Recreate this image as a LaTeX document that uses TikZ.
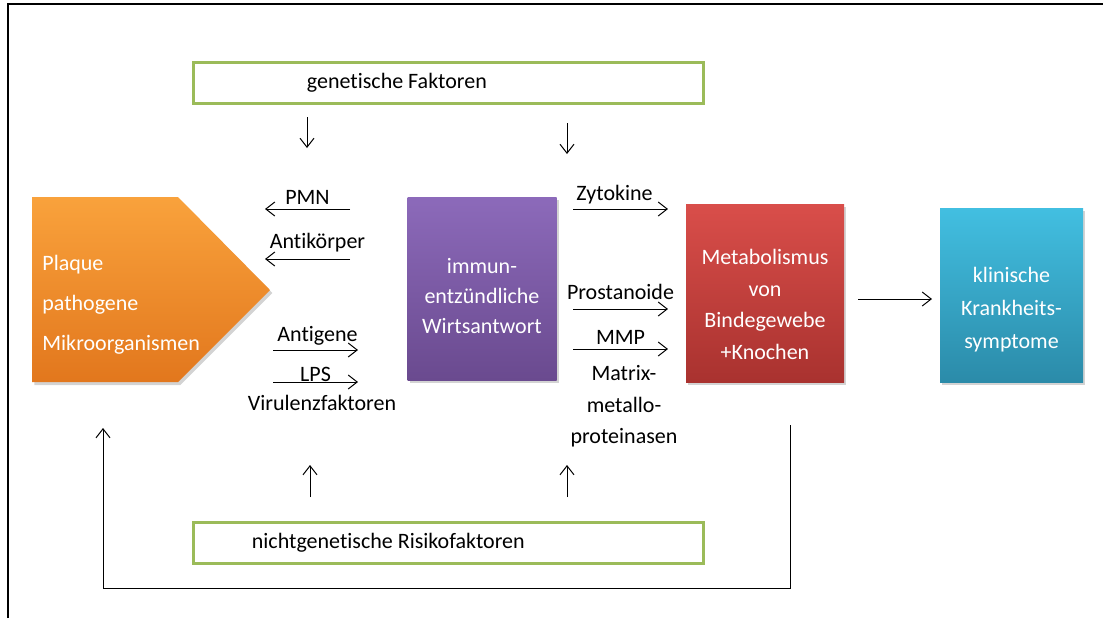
\documentclass[tikz,border=0pt]{standalone}
\usepackage{fontspec}
\setmainfont[Ligatures={TeX,NoCommon}]{Carlito}
\usetikzlibrary{arrows.meta,shadows}
\definecolor{gfgreen}{HTML}{9BBB59}
\definecolor{plaquetop}{HTML}{F9A23C}
\definecolor{plaquebot}{HTML}{E2771D}
\definecolor{hosttop}{HTML}{8C6ABA}
\definecolor{hostbot}{HTML}{6A4A8F}
\definecolor{metatop}{HTML}{D94E4A}
\definecolor{metabot}{HTML}{A9322F}
\definecolor{kliniktop}{HTML}{42BFE1}
\definecolor{klinikbot}{HTML}{2B8BA9}
\tikzset{
  arr/.style={-{Straight Barb[length=4.5pt,width=7pt]},line width=0.5pt},
  factorbox/.style={draw=gfgreen,line width=1.5pt,minimum width=255pt,minimum height=20.5pt,inner sep=0pt},
  colbox/.style={inner sep=0pt,drop shadow={opacity=0.35,shadow xshift=1.2pt,shadow yshift=-1.5pt}},
  boxtext/.style={text=white,align=center,inner sep=0pt},
  lbl/.style={inner sep=2pt}
}

\begin{document}
\begin{tikzpicture}[x=0.5pt,y=-0.5pt,font=\fontsize{11}{13}\selectfont]
\useasboundingbox (0,0) rectangle (1103,618);
\draw[line width=0.75pt] (8,618) -- (8,4) -- (1103,4);

\node[factorbox] (gen) at (448,82.5) {};
\node[anchor=west,inner sep=0pt] (gentext) at ([xshift=57.5pt]gen.west) {genetische Faktoren};
\node[factorbox] (nongen) at (448,542.5) {};
\node[anchor=west,inner sep=0pt] (nongentext) at ([xshift=30pt]nongen.west) {nichtgenetische Risikofaktoren};

\path[colbox,top color=plaquetop,bottom color=plaquebot]
  (32,197) -- (178,197) -- (270,290) -- (178,382) -- (32,382) -- cycle;
\node[boxtext,anchor=west,align=left,font=\fontsize{11}{20}\selectfont] (plaque) at (42,305)
  {Plaque\\pathogene\\Mikroorganismen};

\node[colbox,top color=hosttop,bottom color=hostbot,minimum width=74.5pt,minimum height=91.5pt] (host) at (482,288.5) {};
\node[boxtext,font=\fontsize{11}{15}\selectfont] (hosttext) at ([yshift=-3.75pt]host.center)
  {immun-\\entzündliche\\Wirtsantwort};

\node[colbox,top color=metatop,bottom color=metabot,minimum width=79pt,minimum height=89pt] (meta) at (765,293) {};
\node[boxtext,font=\fontsize{11}{15.8}\selectfont] (metatext) at ([yshift=-5.75pt]meta.center)
  {Metabolismus\\von\\Bindegewebe\\+Knochen};

\node[colbox,top color=kliniktop,bottom color=klinikbot,minimum width=71.5pt,minimum height=87pt] (klinik) at (1011.5,295) {};
\node[boxtext,font=\fontsize{11}{16.5}\selectfont] (kliniktext) at ([yshift=-7.5pt]klinik.center)
  {klinische\\Krankheits-\\symptome};

\coordinate (pmnA) at (350,209);   \coordinate (pmnB) at (265,209);
\coordinate (antkA) at (350,259);  \coordinate (antkB) at (265,259);
\coordinate (antgA) at (273,350);  \coordinate (antgB) at (358,350);
\coordinate (lpsA) at (273,382);   \coordinate (lpsB) at (358,382);
\coordinate (zytA) at (573,209);   \coordinate (zytB) at (668,209);
\coordinate (prosA) at (573,309);  \coordinate (prosB) at (668,309);
\coordinate (mmpA) at (573,349);   \coordinate (mmpB) at (668,349);
\coordinate (metaA) at (858,299);  \coordinate (metaB) at (932,299);
\coordinate (genA) at (307,117);   \coordinate (genB) at (307,148);
\coordinate (genC) at (567,123);   \coordinate (genD) at (567,154);
\coordinate (ngA) at (310,497);    \coordinate (ngB) at (310,465);
\coordinate (ngC) at (567,497);    \coordinate (ngD) at (567,465);
\coordinate (fbA) at (790,425);    \coordinate (fbC) at (790,588);
\coordinate (fbB) at (103,428);

\path
(pmnA) edge[arr] node[lbl,above] (pmn) {PMN} (pmnB)
(antkA) edge[arr] node[lbl,above,xshift=5pt,yshift=1pt] (antik) {Antikörper} (antkB)
(antgA) edge[arr] node[lbl,above,xshift=1pt] (antig) {Antigene} (antgB)
(lpsA) edge[arr] node[lbl,above,yshift=-2pt] (lps) {LPS} (lpsB)
(zytA) edge[arr] node[lbl,above,xshift=-3pt] (zyt) {Zytokine} (zytB)
(prosA) edge[arr] node[lbl,above,yshift=2.5pt] (pros) {Prostanoide} (prosB)
(mmpA) edge[arr] node[lbl,above] (mmp) {MMP} (mmpB)
(metaA) edge[arr] (metaB)
(genA) edge[arr] (genB)
(genC) edge[arr] (genD)
(ngA) edge[arr] (ngB)
(ngC) edge[arr] (ngD)
;
\node[inner sep=0pt] (viru) at (322,403) {Virulenzfaktoren};
\node[inner sep=0pt,align=center,font=\fontsize{11}{15.75}\selectfont,anchor=north] (mmptext) at (624,365)
  {Matrix-\\metallo-\\proteinasen};

\draw[arr] (fbA) -- (fbC) -| (fbB);
\end{tikzpicture}
\end{document}
